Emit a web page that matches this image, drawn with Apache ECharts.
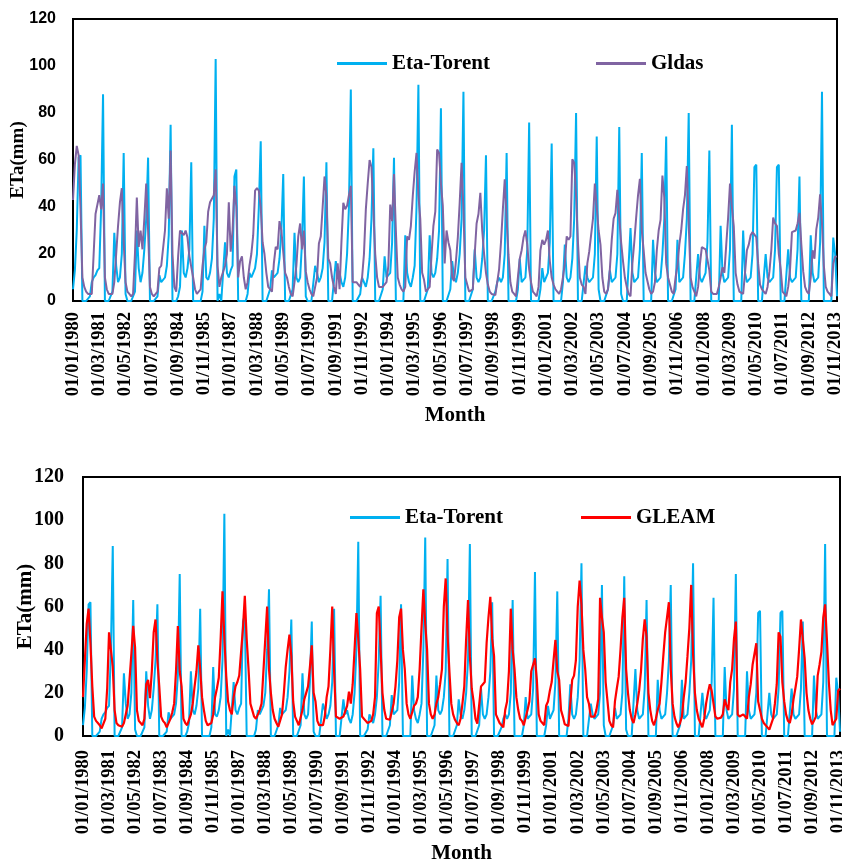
<!DOCTYPE html>
<html>
<head>
<meta charset="utf-8">
<script src="https://cdn.jsdelivr.net/npm/echarts/dist/echarts.min.js"></script>
<style>
  html, body { margin: 0; padding: 0; background: #fff; }
  #chart { width: 842px; height: 862px; }
</style>
</head>
<body>
<div id="chart"></div>
<script>
// Monthly actual evapotranspiration (mm), January 1980 - December 2013, one row per year.
const firstYear = 1980;
const lastYear = 2013;

const etaTorent = [
  5, 13, 30, 61, 62, 0, 0, 0, 0, 2, 8, 10,
  11, 13, 14, 40, 88, 0, 0, 0, 0, 4, 29, 15,
  8, 10, 20, 63, 3, 0, 0, 0, 0, 4, 30, 14,
  8, 12, 22, 35, 61, 0, 0, 0, 0, 2, 11, 8,
  8, 10, 15, 28, 75, 0, 0, 0, 2, 6, 30, 12,
  10, 14, 22, 59, 0, 0, 0, 0, 0, 4, 32, 10,
  9, 12, 18, 35, 103, 0, 3, 0, 0, 25, 12, 10,
  13, 15, 53, 56, 0, 0, 0, 0, 0, 3, 12, 10,
  12, 14, 20, 40, 68, 0, 0, 0, 0, 5, 13, 10,
  10, 12, 18, 30, 54, 0, 0, 0, 0, 5, 29, 10,
  8, 10, 25, 53, 2, 0, 0, 0, 0, 15, 12, 8,
  10, 14, 25, 59, 0, 0, 0, 0, 17, 10, 12, 8,
  6, 10, 20, 40, 90, 0, 0, 0, 0, 3, 10, 8,
  6, 10, 18, 35, 65, 0, 0, 0, 0, 5, 19, 10,
  10, 12, 25, 61, 0, 0, 0, 0, 0, 28, 12, 8,
  6, 10, 15, 40, 92, 0, 0, 0, 0, 5, 28, 12,
  10, 12, 18, 30, 82, 0, 0, 0, 0, 5, 17, 10,
  8, 12, 20, 35, 89, 0, 0, 0, 0, 5, 22, 10,
  8, 10, 18, 30, 62, 0, 0, 0, 0, 4, 8, 10,
  8, 10, 20, 63, 0, 0, 0, 0, 0, 5, 18, 8,
  8, 10, 22, 76, 0, 0, 0, 0, 0, 5, 14, 8,
  8, 12, 25, 67, 0, 0, 0, 0, 0, 8, 24, 10,
  8, 10, 18, 35, 80, 0, 0, 0, 0, 15, 10, 8,
  8, 10, 20, 70, 5, 0, 0, 0, 0, 5, 13, 8,
  8, 10, 20, 74, 3, 0, 0, 0, 0, 31, 12, 8,
  8, 10, 22, 63, 0, 0, 0, 0, 0, 26, 12, 8,
  8, 10, 20, 35, 70, 0, 0, 0, 0, 5, 26, 8,
  8, 10, 20, 35, 80, 0, 0, 0, 0, 20, 10, 8,
  8, 12, 25, 64, 0, 0, 0, 0, 0, 32, 12, 8,
  8, 10, 22, 75, 0, 0, 0, 0, 0, 30, 12, 8,
  8, 10, 20, 57, 58, 0, 0, 0, 0, 20, 10, 8,
  8, 10, 22, 57, 58, 0, 0, 0, 0, 22, 10, 8,
  8, 10, 22, 53, 0, 0, 0, 0, 0, 28, 12, 8,
  8, 10, 25, 89, 0, 0, 0, 0, 0, 27, 20, 2
];

const gldas = [
  43, 58, 66, 62, 39, 10, 6, 4, 3, 2.6, 3, 20,
  37, 37, 45, 39, 50, 10, 5, 3, 2.5, 3, 8, 20,
  32, 42, 48, 25, 8, 4, 3, 2, 3, 20, 44, 23,
  30, 22, 35, 50, 30, 6, 3, 2, 2, 4, 14, 15,
  15, 30, 48, 35, 64, 20, 6, 4, 19, 30, 30, 28,
  30, 27, 19, 19, 10, 5, 3, 2.5, 5, 15, 22, 25,
  38, 42, 42, 45, 56, 15, 6, 10, 10, 15, 20, 42,
  21, 30, 49, 40, 10, 17, 19, 10, 5, 8, 15, 20,
  28, 47, 48, 47, 40, 25, 20, 12, 6, 5, 4, 16,
  23, 22, 34, 30, 30, 12, 10, 6, 3, 2, 8, 15,
  27.5, 33, 22, 30, 12.6, 8, 5, 3, 2, 6, 10, 24.5,
  27.5, 40, 53, 44.5, 18, 16, 10, 6, 3, 16, 5, 25,
  41.8, 39, 40.5, 45, 49, 8, 8, 8, 7, 6, 10, 20,
  39, 50, 60, 57, 39, 20, 10, 6, 6, 6, 6, 8,
  15, 41, 34, 54, 30, 10, 7, 5, 4, 6, 27.5, 26,
  32, 44.6, 55, 63, 45, 35, 12, 9, 4, 5, 6, 19.6,
  32, 38, 64.5, 63, 50, 40.6, 16, 30, 25, 21.6, 10, 8.5,
  17, 27, 41.8, 58.8, 39, 10, 7, 4, 4.5, 5, 20, 33,
  37, 46, 30, 20, 12, 7, 4, 3, 3, 2.5, 2, 13.6,
  25, 39, 51.8, 35, 19.6, 8, 4, 3, 2, 10, 18, 21.6,
  27, 30, 24, 13.6, 8, 4, 3, 2, 6, 21.6, 26, 24,
  26, 30, 17, 10, 7, 5, 4, 3, 5, 10, 16, 27.5,
  26, 27.5, 60.3, 58.8, 44.6, 25, 10, 7, 6, 3, 16, 21,
  28, 35, 50, 50.5, 30, 24, 10, 4, 3, 5, 13.6, 26,
  35, 37.4, 47.3, 35.5, 25, 17, 10, 6, 3, 2, 16, 25,
  35.5, 45, 52, 30, 21.6, 12, 8.5, 5, 3, 4, 8, 21.6,
  30, 34.5, 53.4, 44, 16, 10, 7, 4, 3, 10, 15, 24,
  30, 39, 45, 57.4, 33, 10, 6, 4, 2, 6, 15.8, 22.9,
  23.7, 22, 21.6, 13, 4, 3, 2.5, 3, 6, 10, 14.3, 12,
  24, 35.5, 50, 40, 31.9, 12, 7, 4, 3.5, 3, 12, 21.6,
  24, 28, 29.3, 28.6, 27.2, 16, 7, 5, 4, 3, 6, 12.6,
  21.6, 35.5, 33, 32, 20, 13.6, 4, 3, 2, 6, 13.6, 29.3,
  28.6, 30, 33, 37.5, 24, 12.6, 6, 4, 3, 10, 21.6, 18,
  30.6, 35.5, 45.4, 33, 15, 6, 4, 3, 2, 16, 18.8, 19
];

const gleam = [
  18, 35, 52, 59, 43, 23, 9, 7, 6, 5, 3.5, 3.5,
  8, 22, 48, 40, 32, 12, 6, 5, 4.5, 4.3, 6, 6,
  14, 26, 38, 51, 41, 12, 7, 6, 5, 8, 24, 26,
  17.5, 30, 48, 54, 35, 23, 9, 7, 6, 4, 3.5, 8,
  11, 15, 30, 51, 30, 23, 8, 6, 5, 5, 10, 15,
  23, 30, 42, 31, 18, 12, 7, 5, 5, 6, 10, 18,
  22, 27, 45, 67, 45, 28, 16, 12, 10, 18, 23, 25,
  28, 39, 50, 65, 45, 31, 15, 12, 9, 8, 8, 12,
  15, 30, 45, 60, 31, 20, 12, 8, 6, 4.3, 5, 10,
  20, 32, 40, 47, 37, 16, 9, 7, 5, 4.3, 12, 17,
  20, 23, 32, 42, 20, 16, 7, 5, 4.3, 5, 9, 18,
  23, 40, 60, 30, 9, 8.5, 8, 8, 9, 9, 14, 20.5,
  15, 24, 40, 57, 45, 31, 9, 8, 7, 6, 6, 7,
  10, 18, 57, 60, 40, 20, 12, 8, 7.5, 7.5, 7.5, 15,
  23, 35, 55, 59, 40, 31, 15, 10, 8, 7.5, 14, 15,
  18, 31, 50, 68, 52, 40, 15, 10, 8, 10, 15, 18,
  24, 31, 60, 73, 47, 30, 15, 10, 7.5, 6, 5, 8,
  15, 23, 45, 63, 37, 22, 16, 8, 5.7, 5, 23, 24,
  25, 43, 55, 64.5, 45, 37, 10, 8, 6, 5, 4, 12,
  16, 30, 59, 40, 31, 18, 12, 8, 7, 5, 5, 12,
  16, 30, 33, 36, 26, 10, 7, 6, 5, 14, 16, 21,
  25, 35, 44.5, 30, 26, 12, 9, 5.4, 5, 4.6, 15, 26,
  28, 35, 60, 72, 61, 40, 31, 18, 15, 9, 9, 9,
  12, 17, 64, 55, 48, 25, 16, 7, 5, 4, 16, 22,
  27.5, 40, 55, 64, 31, 20, 12, 8, 6, 10, 15, 21,
  30, 45, 54, 46, 20, 12, 7, 5, 8, 12, 15, 25,
  37, 48, 55, 62, 31, 15, 9, 6, 4, 6, 9, 18,
  25, 37, 50, 70, 38, 20, 12, 8, 6, 4, 8, 15,
  20, 24, 21, 15, 9, 8, 8, 8.5, 10, 17, 14, 12,
  25, 31, 45, 53, 10, 9, 9, 10, 9, 8, 18, 24,
  33, 38, 43, 16, 12, 8, 6, 5.4, 4, 3, 2.5, 8,
  15, 24, 48, 46, 25, 16, 10, 7, 6, 10, 17, 22,
  27.5, 40, 54, 45, 36, 20, 12, 8, 5.4, 7, 9, 28,
  33, 39, 55, 61, 44, 25, 12, 5, 5, 8, 21, 22
];

const yTicks = { min: 0, max: 120, step: 20 };

// Category labels: first day of every month, dd/mm/yyyy
const months = [];
for (let y = firstYear; y <= lastYear; y++) {
  for (let m = 1; m <= 12; m++) {
    months.push('01/' + String(m).padStart(2, '0') + '/' + y);
  }
}

const SERIF = "'Liberation Serif', 'Times New Roman', serif";
const SANS = "'Liberation Sans', Arial, sans-serif";
const COL_ETA = '#00B0F0';
const COL_GLDAS = '#8064A2';
const COL_GLEAM = '#FF0000';

function xAxisFor(gridIndex) {
  const top = gridIndex === 0;
  return {
    type: 'category',
    gridIndex: gridIndex,
    data: months,
    boundaryGap: false,
    name: 'Month',
    nameLocation: 'middle',
    nameMoveOverlap: false,
    nameGap: top ? 104 : 107,
    nameTextStyle: { fontFamily: SERIF, fontWeight: 'bold', fontSize: 21, color: '#000' },
    axisLine: { show: true, lineStyle: { color: '#000', width: 2 } },
    axisTick: { show: false },
    splitLine: { show: false },
    axisLabel: {
      interval: 13,
      rotate: 90,
      margin: top ? 11 : 14,
      fontFamily: SERIF,
      fontWeight: 'bold',
      fontSize: 18.5,
      color: '#000'
    }
  };
}

function yAxisFor(gridIndex) {
  const top = gridIndex === 0;
  return {
    type: 'value',
    gridIndex: gridIndex,
    min: yTicks.min,
    max: yTicks.max,
    interval: yTicks.step,
    name: 'ETa(mm)',
    nameLocation: 'middle',
    nameRotate: 90,
    nameMoveOverlap: false,
    nameGap: top ? 45 : 47,
    nameTextStyle: { fontFamily: SERIF, fontWeight: 'bold', fontSize: top ? 19 : 21, color: '#000' },
    axisLine: { show: true, lineStyle: { color: '#000', width: 2 } },
    axisTick: { show: false },
    splitLine: { show: false },
    axisLabel: {
      margin: top ? 17 : 19,
      fontFamily: top ? SANS : SERIF,
      fontWeight: 'bold',
      fontSize: top ? 16 : 20,
      color: '#000'
    }
  };
}

function lineSeries(name, data, color, axisIndex, width) {
  return {
    name: name,
    type: 'line',
    xAxisIndex: axisIndex,
    yAxisIndex: axisIndex,
    data: data,
    showSymbol: false,
    symbol: 'none',
    smooth: false,
    lineStyle: { color: color, width: width },
    itemStyle: { color: color },
    animation: false
  };
}

const legendText = { fontFamily: SERIF, fontWeight: 'bold', fontSize: 21, color: '#000' };

const option = {
  backgroundColor: '#fff',
  animation: false,
  grid: [
    { left: 73, top: 19, right: 5, height: 282, containLabel: false, outerBoundsMode: 'none', show: true, borderColor: '#000', borderWidth: 2, backgroundColor: 'transparent' },
    { left: 83, top: 477, right: 2, height: 259, containLabel: false, outerBoundsMode: 'none', show: true, borderColor: '#000', borderWidth: 2, backgroundColor: 'transparent' }
  ],
  legend: [
    {
      left: 332, top: 48, itemGap: 106, itemWidth: 50, itemHeight: 3,
      icon: 'rect', selectedMode: false,
      data: [{ name: 'Eta-Torent', itemStyle: { color: COL_ETA } }, { name: 'Gldas', itemStyle: { color: COL_GLDAS } }],
      textStyle: legendText
    },
    {
      left: 345, top: 502, itemGap: 78, itemWidth: 50, itemHeight: 3,
      icon: 'rect', selectedMode: false,
      data: [{ name: 'Eta-Torent', itemStyle: { color: COL_ETA } }, { name: 'GLEAM', itemStyle: { color: COL_GLEAM } }],
      textStyle: legendText
    }
  ],
  xAxis: [xAxisFor(0), xAxisFor(1)],
  yAxis: [yAxisFor(0), yAxisFor(1)],
  series: [
    lineSeries('Eta-Torent', etaTorent, COL_ETA, 0, 2),
    lineSeries('Gldas', gldas, COL_GLDAS, 0, 2),
    lineSeries('Eta-Torent', etaTorent, COL_ETA, 1, 2),
    lineSeries('GLEAM', gleam, COL_GLEAM, 1, 2.2)
  ]
};

const chart = echarts.init(document.getElementById('chart'), null, { renderer: 'canvas' });
chart.setOption(option);
</script>
</body>
</html>
